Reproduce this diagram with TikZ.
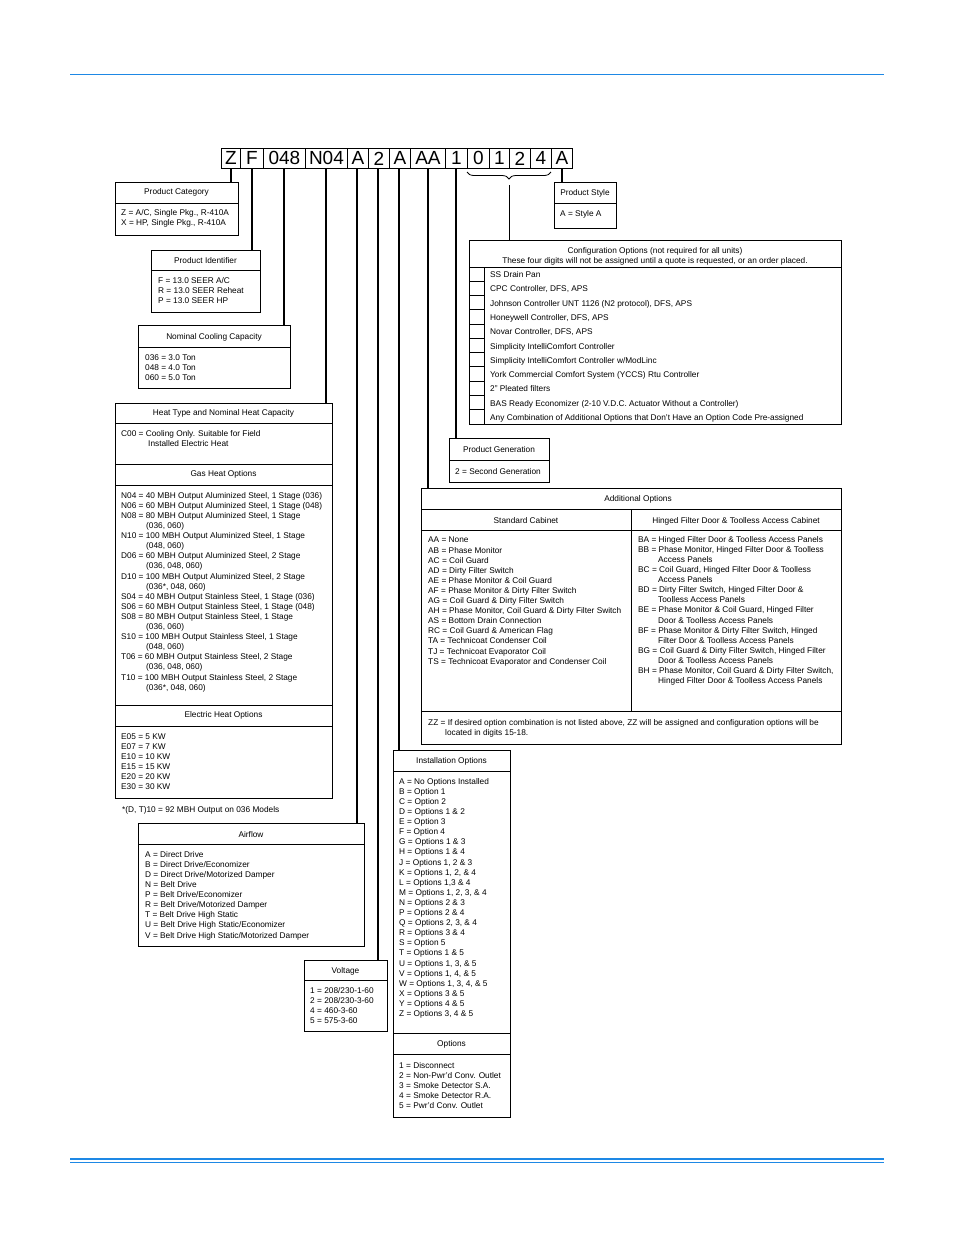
\documentclass[tikz,border=0pt]{standalone}
\usepackage{fontspec}
\setmainfont{Liberation Sans}
\usetikzlibrary{decorations.pathreplacing}
\definecolor{hblue}{RGB}{30,136,229}
\begin{document}
\begin{tikzpicture}[x=1pt,y=-1pt,
  txt/.style={font=\fontsize{8.3}{10.1}\selectfont,align=left,inner sep=0,anchor=north west,yshift=7pt,execute at begin node=\rule{0pt}{7pt}},
  hd/.style={font=\fontsize{8.3}{10.1}\selectfont,align=center,inner sep=0,anchor=north,yshift=7pt,execute at begin node=\rule{0pt}{7pt}},
  box/.style={draw,line width=0.9pt},
  cell/.style={draw,line width=0.9pt,minimum height=20pt,inner sep=0,font=\fontsize{19}{19}\selectfont,anchor=north west},
  conn/.style={line width=1.8pt}]
\useasboundingbox (0,0) rectangle (954,1235);
\draw[hblue,line width=0.8pt] (70,74) -- (884,74);
\draw[hblue,line width=1.4pt] (70,1159) -- (884,1159);
\draw[hblue,line width=0.5pt] (70,1162) -- (884,1162);
% code cells
\node[cell,minimum width=19pt] (c1) at (221,148) {Z};
\node[cell,minimum width=23pt] (c2) at (240,148) {F};
\node[cell,minimum width=42pt] (c3) at (263,148) {048};
\node[cell,minimum width=42pt] (c4) at (305,148) {N04};
\node[cell,minimum width=21pt] (c5) at (347,148) {A};
\node[cell,minimum width=21pt] (c6) at (368,148) {2};
\node[cell,minimum width=21pt] (c7) at (389,148) {A};
\node[cell,minimum width=35pt] (c8) at (410,148) {AA};
\node[cell,minimum width=22pt] (c9) at (445,148) {1};
\node[cell,minimum width=22pt] (c10) at (467,148) {0};
\node[cell,minimum width=20pt] (c11) at (489,148) {1};
\node[cell,minimum width=21pt] (c12) at (509,148) {2};
\node[cell,minimum width=21pt] (c13) at (530,148) {4};
\node[cell,minimum width=21pt] (c14) at (551,148) {A};
% Product Category
\draw[box] (115,182) rectangle (238,235); \draw[box] (115,203) -- (238,203);
\node[hd] (pch) at (176.5,194) {Product Category};
\node[txt] (pct) at (121,216) {Z = A/C, Single Pkg., R-410A\\X = HP, Single Pkg., R-410A};
% Product Identifier
\draw[box] (151,250) rectangle (260,312); \draw[box] (151,270) -- (260,270);
\node[hd] (pih) at (205.5,263) {Product Identifier};
\node[txt] (pit) at (158,284) {F = 13.0 SEER A/C\\R = 13.0 SEER Reheat\\P = 13.0 SEER HP};
% Nominal cooling
\draw[box] (138,325) rectangle (290,388); \draw[box] (138,347) -- (290,347);
\node[hd] (nch) at (214,339) {Nominal Cooling Capacity};
\node[txt] (nct) at (145,361) {036 = 3.0 Ton\\048 = 4.0 Ton\\060 = 5.0 Ton};
% Heat type
\draw[box] (115,403) rectangle (332,798);
\foreach \yy in {423,464,485,705,726} \draw[box] (115,\yy) -- (332,\yy);
\node[hd] (hth) at (223.5,415) {Heat Type and Nominal Heat Capacity};
\node[txt] (htc) at (121,437) {C00 = Cooling Only. Suitable for Field\\\hspace*{27pt}Installed Electric Heat};
\node[hd] (ghh) at (223.5,476) {Gas Heat Options};
\node[txt] (ght) at (121,499) {N04 = 40 MBH Output Aluminized Steel, 1 Stage (036)\\
N06 = 60 MBH Output Aluminized Steel, 1 Stage (048)\\
N08 = 80 MBH Output Aluminized Steel, 1 Stage\\\hspace*{25pt}(036, 060)\\
N10 = 100 MBH Output Aluminized Steel, 1 Stage\\\hspace*{25pt}(048, 060)\\
D06 = 60 MBH Output Aluminized Steel, 2 Stage\\\hspace*{25pt}(036, 048, 060)\\
D10 = 100 MBH Output Aluminized Steel, 2 Stage\\\hspace*{25pt}(036*, 048, 060)\\
S04 = 40 MBH Output Stainless Steel, 1 Stage (036)\\
S06 = 60 MBH Output Stainless Steel, 1 Stage (048)\\
S08 = 80 MBH Output Stainless Steel, 1 Stage\\\hspace*{25pt}(036, 060)\\
S10 = 100 MBH Output Stainless Steel, 1 Stage\\\hspace*{25pt}(048, 060)\\
T06 = 60 MBH Output Stainless Steel, 2 Stage\\\hspace*{25pt}(036, 048, 060)\\
T10 = 100 MBH Output Stainless Steel, 2 Stage\\\hspace*{25pt}(036*, 048, 060)};
\node[hd] (ehh) at (223.5,717) {Electric Heat Options};
\node[txt] (eht) at (121,740) {E05 = 5 KW\\E07 = 7 KW\\E10 = 10 KW\\E15 = 15 KW\\E20 = 20 KW\\E30 = 30 KW};
\node[txt] (fn) at (122,812) {*(D, T)10 = 92 MBH Output on 036 Models};
% Airflow
\draw[box] (138,823) rectangle (364,946); \draw[box] (138,844) -- (364,844);
\node[hd] (afh) at (251,837) {Airflow};
\node[txt] (aft) at (145,858) {A = Direct Drive\\B = Direct Drive/Economizer\\D = Direct Drive/Motorized Damper\\N = Belt Drive\\P = Belt Drive/Economizer\\R = Belt Drive/Motorized Damper\\T = Belt Drive High Static\\U = Belt Drive High Static/Economizer\\V = Belt Drive High Static/Motorized Damper};
% Voltage
\draw[box] (304,960) rectangle (387,1031); \draw[box] (304,980) -- (387,980);
\node[hd] (vh) at (345.5,973) {Voltage};
\node[txt] (vt) at (310,994) {1 = 208/230-1-60\\2 = 208/230-3-60\\4 = 460-3-60\\5 = 575-3-60};
% Installation
\draw[box] (393,750) rectangle (510,1117);
\foreach \yy in {771,1033,1054} \draw[box] (393,\yy) -- (510,\yy);
\node[hd] (ih) at (451.5,763) {Installation Options};
\node[txt] (it) at (399,785) {A = No Options Installed\\B = Option 1\\C = Option 2\\D = Options 1 \& 2\\E = Option 3\\F = Option 4\\G = Options 1 \& 3\\H = Options 1 \& 4\\J = Options 1, 2 \& 3\\K = Options 1, 2, \& 4\\L = Options 1,3 \& 4\\M = Options 1, 2, 3, \& 4\\N = Options 2 \& 3\\P = Options 2 \& 4\\Q = Options 2, 3, \& 4\\R = Options 3 \& 4\\S = Option 5\\T = Options 1 \& 5\\U = Options 1, 3, \& 5\\V = Options 1, 4, \& 5\\W = Options 1, 3, 4, \& 5\\X = Options 3 \& 5\\Y = Options 4 \& 5\\Z = Options 3, 4 \& 5};
\node[hd] (oh) at (451.5,1046) {Options};
\node[txt] (ot) at (399,1069) {1 = Disconnect\\2 = Non-Pwr'd Conv. Outlet\\3 = Smoke Detector S.A.\\4 = Smoke Detector R.A.\\5 = Pwr'd Conv. Outlet};
% Additional options
\draw[box] (421,488) rectangle (841,744);
\foreach \yy in {509,530,711} \draw[box] (421,\yy) -- (841,\yy);
\draw[box] (631,509) -- (631,711);
\node[hd] (aoh) at (638,501) {Additional Options};
\node[hd] (sch) at (526,523) {Standard Cabinet};
\node[hd] (hch) at (736,523) {Hinged Filter Door \& Toolless Access Cabinet};
\node[txt] (sct) at (428,544) {AA = None\\AB = Phase Monitor\\AC = Coil Guard\\AD = Dirty Filter Switch\\AE = Phase Monitor \& Coil Guard\\AF = Phase Monitor \& Dirty Filter Switch\\AG = Coil Guard \& Dirty Filter Switch\\AH = Phase Monitor, Coil Guard \& Dirty Filter Switch\\AS = Bottom Drain Connection\\RC = Coil Guard \& American Flag\\TA = Technicoat Condenser Coil\\TJ = Technicoat Evaporator Coil\\TS = Technicoat Evaporator and Condenser Coil};
\node[txt] (hct) at (638,543) {BA = Hinged Filter Door \& Toolless Access Panels\\
BB = Phase Monitor, Hinged Filter Door \& Toolless\\\hspace*{20pt}Access Panels\\
BC = Coil Guard, Hinged Filter Door \& Toolless\\\hspace*{20pt}Access Panels\\
BD = Dirty Filter Switch, Hinged Filter Door \&\\\hspace*{20pt}Toolless Access Panels\\
BE = Phase Monitor \& Coil Guard, Hinged Filter\\\hspace*{20pt}Door \& Toolless Access Panels\\
BF = Phase Monitor \& Dirty Filter Switch, Hinged\\\hspace*{20pt}Filter Door \& Toolless Access Panels\\
BG = Coil Guard \& Dirty Filter Switch, Hinged Filter\\\hspace*{20pt}Door \& Toolless Access Panels\\
BH = Phase Monitor, Coil Guard \& Dirty Filter Switch,\\\hspace*{20pt}Hinged Filter Door \& Toolless Access Panels};
\node[txt] (zz) at (428,726) {ZZ = If desired option combination is not listed above, ZZ will be assigned and configuration options will be\\\hspace*{17pt}located in digits 15-18.};
% Configuration
\draw[box] (469,240) rectangle (841,424); \draw[box] (469,267) -- (841,267);
\draw[box] (484,267) -- (484,424);
\foreach \i in {1,...,10} \draw[box] (469,{267+\i*14.27}) -- (484,{267+\i*14.27});
\node[hd] (cfh) at (655,254) {Configuration Options (not required for all units)\\These four digits will not be assigned until a quote is requested, or an order placed.};
\foreach \t [count=\i from 0] in {SS Drain Pan,{CPC Controller, DFS, APS},{Johnson Controller UNT 1126 (N2 protocol), DFS, APS},{Honeywell Controller, DFS, APS},{Novar Controller, DFS, APS},Simplicity IntelliComfort Controller,Simplicity IntelliComfort Controller w/ModLinc,York Commercial Comfort System (YCCS) Rtu Controller,2" Pleated filters,BAS Ready Economizer (2-10 V.D.C. Actuator Without a Controller),Any Combination of Additional Options that Don't Have an Option Code Pre-assigned}
  \node[txt] (cf\i) at (490,{277.5+\i*14.27}) {\t};
% Product Generation
\draw[box] (449,438) rectangle (549,482); \draw[box] (449,460) -- (549,460);
\node[hd] (pgh) at (499,452) {Product Generation};
\node[txt] (pgt) at (455,474) {2 = Second Generation};
% Product Style
\draw[box] (554,182) rectangle (616,228); \draw[box] (554,203) -- (616,203);
\node[hd] (psh) at (585,195) {Product Style};
\node[txt] (pst) at (560,216) {A = Style A};
% connectors
\coordinate (e1) at (231,182); \coordinate (e2) at (252,250); \coordinate (e3) at (284,325);
\coordinate (e4) at (326,403); \coordinate (e5) at (357,823); \coordinate (e6) at (378,960);
\coordinate (e7) at (399,750); \coordinate (e8) at (428,488); \coordinate (e9) at (456,438);
\coordinate (e14) at (562,182); \coordinate (bt) at (509,185); \coordinate (cb) at (509,240);
\draw[conn] (c1.south -| e1) -- (e1);
\draw[conn] (c2.south -| e2) -- (e2);
\draw[conn] (c3.south -| e3) -- (e3);
\draw[conn] (c4.south -| e4) -- (e4);
\draw[conn] (c5.south -| e5) -- (e5);
\draw[conn] (c6.south -| e6) -- (e6);
\draw[conn] (c7.south -| e7) -- (e7);
\draw[conn] (c8.south -| e8) -- (e8);
\draw[conn] (c9.south -| e9) -- (e9);
\draw[conn] (c14.south -| e14) -- (e14);
\draw[line width=0.8pt,decorate,decoration={brace,amplitude=7pt}] (551,172) -- (467,172);
\draw[line width=0.8pt] (bt) -- (cb);
\end{tikzpicture}
\end{document}
